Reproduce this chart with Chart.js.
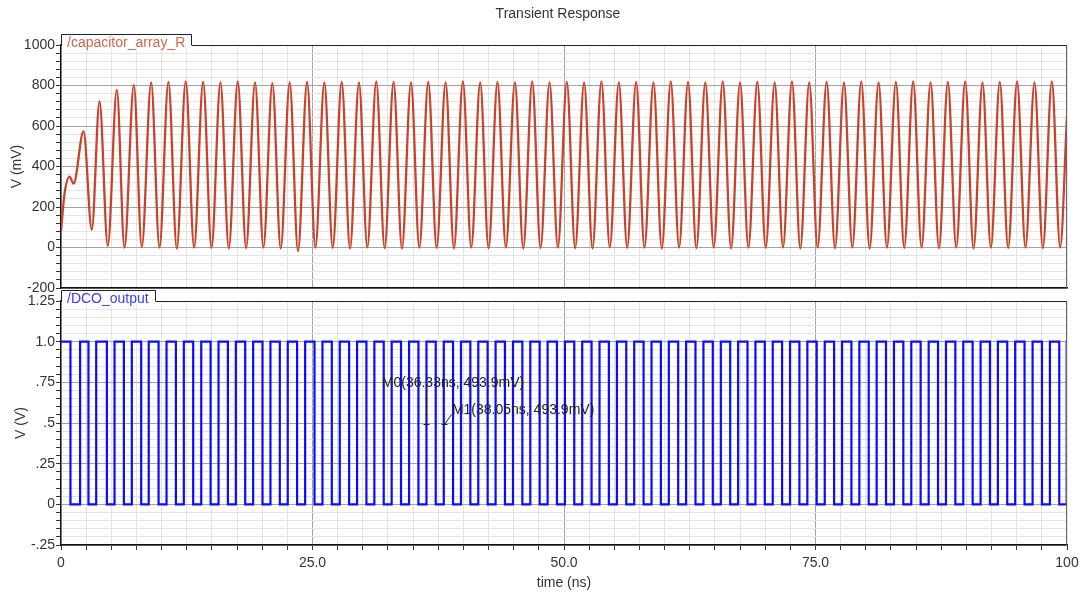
<!DOCTYPE html>
<html>
<head>
<meta charset="utf-8">
<title>Transient Response</title>
<script src="https://cdn.jsdelivr.net/npm/chart.js@4.4.1/dist/chart.umd.min.js"></script>
<style>
  html, body { margin: 0; padding: 0; background: #ffffff; }
  #wrap { position: relative; width: 1085px; height: 596px; overflow: hidden; }
  #topChart { position: absolute; left: 0; top: 0; width: 1085px; height: 300px; }
  #botChart { position: absolute; left: 0; top: 289px; width: 1085px; height: 307px; }
</style>
</head>
<body>
<div id="wrap">
  <canvas id="topChart" width="1085" height="300"></canvas>
  <canvas id="botChart" width="1085" height="307"></canvas>
</div>
<script>
const FONT = "'Liberation Sans', Arial, sans-serif";
const TEXT = '#333333';
const RED = '#c8432b';
const BLUE = '#0b0bff';

// /capacitor_array_R : turning points (time ns, value mV)
const capTime = [
  0, 0.35, 0.85, 1.25, 2.24, 3.06, 3.83, 4.65, 5.55, 6.31, 7.24, 8.03,
  8.96, 9.79, 10.68, 11.51, 12.40, 13.23, 14.13, 14.96, 15.85, 16.68,
  17.57, 18.40, 19.29, 20.12, 21.01, 21.84, 22.73, 23.56, 24.46, 25.29,
  26.18, 27.01, 27.90, 28.73, 29.62, 30.45, 31.34, 32.17, 33.06, 33.89,
  34.79, 35.62, 36.51, 37.34, 38.23, 39.06, 39.95, 40.78, 41.67, 42.50,
  43.39, 44.22, 45.12, 45.95, 46.84, 47.67, 48.56, 49.39, 50.28, 51.11,
  52.00, 52.83, 53.72, 54.55, 55.45, 56.28, 57.17, 58.00, 58.89, 59.72,
  60.61, 61.44, 62.33, 63.16, 64.05, 64.88, 65.78, 66.61, 67.50, 68.33,
  69.22, 70.05, 70.94, 71.77, 72.66, 73.49, 74.38, 75.21, 76.11, 76.94,
  77.83, 78.66, 79.55, 80.38, 81.27, 82.10, 82.99, 83.82, 84.71, 85.54,
  86.44, 87.27, 88.16, 88.99, 89.88, 90.71, 91.60, 92.43, 93.32, 94.15,
  95.04, 95.87, 96.77, 97.60, 98.49, 99.32, 100
];
const capMv = [
  80, 265, 350, 315, 573, 88, 722, 8, 778, 0, 802, 3,
  815, 0, 818, -5, 820, 0, 818, -2, 815, -5,
  820, -3, 815, 0, 812, -5, 815, -18, 818, 0,
  815, -2, 818, -5, 815, 0, 820, -3, 818, -5,
  815, 0, 818, -2, 815, -5, 820, 0, 815, -3,
  818, 0, 815, -5, 820, -2, 815, 0, 818, -3,
  815, -5, 820, 0, 815, -2, 818, 0, 815, -5,
  820, 0, 818, -3, 815, 0, 820, -5, 815, 0,
  818, -2, 815, 0, 820, -5, 815, 0, 818, -3,
  815, 0, 820, -5, 815, 0, 818, -2, 820, 0,
  815, -3, 818, 0, 820, -5, 815, 0, 818, -2,
  820, 0, 815, -3, 820, 0, 650
];

// /DCO_output : edge times (ns) and levels (V)
const dcoHigh = 1.0;
const dcoLow = 0.0;
const dcoRise = [
  1.90, 3.50, 5.32, 7.04, 8.72, 10.49, 12.21, 13.94, 15.66, 17.38, 19.10,
  20.82, 22.54, 24.27, 25.99, 27.71, 29.43, 31.15, 32.87, 34.60, 36.33,
  38.05, 39.76, 41.48, 43.20, 44.93, 46.65, 48.37, 50.09, 51.81, 53.53,
  55.26, 56.98, 58.70, 60.42, 62.14, 63.86, 65.59, 67.31, 69.03, 70.75,
  72.47, 74.19, 75.92, 77.64, 79.36, 81.08, 82.80, 84.52, 86.25, 87.97,
  89.69, 91.41, 93.13, 94.85, 96.58, 98.30, 99.97
];
const dcoFall = [
  0.94, 2.73, 4.56, 6.25, 7.97, 9.70, 11.42, 13.14, 14.87, 16.59, 18.31,
  20.03, 21.75, 23.47, 25.20, 26.92, 28.64, 30.36, 32.08, 33.80, 35.53,
  37.25, 38.97, 40.69, 42.41, 44.13, 45.86, 47.58, 49.30, 51.02, 52.74,
  54.46, 56.19, 57.91, 59.63, 61.35, 63.07, 64.79, 66.52, 68.24, 69.96,
  71.68, 73.40, 75.12, 76.85, 78.57, 80.29, 82.01, 83.73, 85.45, 87.18,
  88.90, 90.62, 92.34, 94.06, 95.78, 97.51, 99.23
];

// markers placed on the DCO trace
const markerName = ['M0', 'M1'];
const markerTime = [36.33, 38.05];
const markerMv = [493.9, 493.9];

// ticks
const xTickValues = [0, 25, 50, 75, 100];
const xTickLabels = ['0', '25.0', '50.0', '75.0', '100'];
const topTickValues = [1000, 800, 600, 400, 200, 0, -200];
const topTickLabels = ['1000', '800', '600', '400', '200', '0', '-200'];
const botTickValues = [1.25, 1.0, 0.75, 0.5, 0.25, 0, -0.25];
const botTickLabels = ['1.25', '1.0', '.75', '.5', '.25', '0', '-.25'];

const MAJOR_GRID = '#a4a4a4';
const MINOR_GRID = '#e4e4e4';

function majorIndex(values, v) {
  return values.findIndex(m => Math.abs(m - v) < 1e-6);
}
function labelFor(values, labels) {
  return v => {
    const i = majorIndex(values, v);
    return i >= 0 ? labels[i] : '';
  };
}
function gridFor(values) {
  return ctx => (ctx.tick && majorIndex(values, ctx.tick.value) >= 0) ? MAJOR_GRID : MINOR_GRID;
}

// build the point lists
const capPoints = capTime.map((t, i) => ({ x: t, y: capMv[i] }));
const dcoEdges = dcoRise.map(t => ({ x: t, y: dcoHigh }))
  .concat(dcoFall.map(t => ({ x: t, y: dcoLow })))
  .sort((a, b) => a.x - b.x);
const dcoPoints = [{ x: 0, y: dcoHigh }].concat(dcoEdges, [{ x: 100, y: dcoHigh }]);

// frame lines and the little name tab over each panel
const panelTab = {
  id: 'panelTab',
  afterDraw(chart, args, opts) {
    const { ctx, chartArea: a } = chart;
    ctx.save();
    ctx.lineWidth = 1;
    ctx.strokeStyle = '#222';
    ctx.beginPath();
    ctx.moveTo(a.left, a.top + 0.5);
    ctx.lineTo(a.right, a.top + 0.5);
    ctx.stroke();
    ctx.strokeStyle = '#666';
    ctx.beginPath();
    ctx.moveTo(a.right - 0.5, a.top);
    ctx.lineTo(a.right - 0.5, a.bottom);
    ctx.stroke();

    ctx.font = '14px ' + FONT;
    const w = Math.round(ctx.measureText(opts.text).width + 12);
    ctx.fillStyle = '#ffffff';
    ctx.fillRect(a.left + 1, a.top - 10, w, 14);
    ctx.strokeStyle = '#222';
    ctx.beginPath();
    ctx.moveTo(a.left + 0.5, a.top);
    ctx.lineTo(a.left + 0.5, a.top - 10.5);
    ctx.lineTo(a.left + w + 0.5, a.top - 10.5);
    ctx.lineTo(a.left + w + 0.5, a.top + 0.5);
    ctx.stroke();
    ctx.fillStyle = opts.color;
    ctx.textAlign = 'left';
    ctx.textBaseline = 'alphabetic';
    ctx.fillText(opts.text, a.left + 6, a.top + 1.5);

    if (opts.title) {
      ctx.fillStyle = TEXT;
      ctx.textAlign = 'center';
      ctx.textBaseline = 'middle';
      ctx.fillText(opts.title, (a.left + a.right) / 2 - 6, 14);
    }
    ctx.restore();
  }
};

const markerPlugin = {
  id: 'markers',
  afterDatasetsDraw(chart, args, opts) {
    const { ctx, scales: { x, y } } = chart;
    ctx.save();
    ctx.font = '14px ' + FONT;
    ctx.fillStyle = '#222';
    ctx.strokeStyle = '#222';
    ctx.lineWidth = 1;
    ctx.textAlign = 'left';
    ctx.textBaseline = 'alphabetic';
    markerName.forEach((name, i) => {
      const px = Math.round(x.getPixelForValue(markerTime[i])) + 0.5;
      const py = Math.round(y.getPixelForValue(markerMv[i] / 1000)) + 0.5;
      const off = opts.offsets[i];
      ctx.beginPath();
      ctx.moveTo(px - 3, py);
      ctx.lineTo(px + 3, py);
      ctx.moveTo(px, py);
      ctx.lineTo(px + off.lx, py + off.ly);
      ctx.stroke();
      const label = `${name}(${markerTime[i].toFixed(2)}ns, ${markerMv[i].toFixed(1)}mV)`;
      ctx.fillText(label, px + off.tx, py + off.ty);
    });
    ctx.restore();
  }
};

const tickFont = { family: FONT, size: 14 };

new Chart(document.getElementById('topChart'), {
  type: 'line',
  data: {
    datasets: [{
      label: '/capacitor_array_R',
      data: capPoints,
      borderColor: RED,
      borderWidth: 2.3,
      pointRadius: 0,
      cubicInterpolationMode: 'monotone'
    }]
  },
  options: {
    responsive: false,
    animation: false,
    layout: { padding: { top: 45, right: 18, left: 0, bottom: 0 } },
    plugins: {
      legend: { display: false },
      tooltip: { enabled: false },
      panelTab: { text: '/capacitor_array_R', color: '#d0654b', title: 'Transient Response' }
    },
    scales: {
      x: {
        type: 'linear', min: 0, max: 100,
        ticks: { display: false, stepSize: 2.5, autoSkip: false, maxTicksLimit: 100 },
        grid: { drawTicks: false, color: gridFor([25, 50, 75]) },
        border: { color: '#111', width: 1.5 },
        afterFit: s => { s.height = 12; }
      },
      y: {
        min: -200, max: 1000,
        ticks: {
          stepSize: 40, autoSkip: false, maxTicksLimit: 100, padding: 1,
          font: tickFont, color: TEXT,
          callback: labelFor(topTickValues, topTickLabels)
        },
        grid: { color: gridFor(topTickValues), tickLength: 5, tickColor: '#333' },
        border: { color: '#111', width: 1.5 },
        title: { display: true, text: 'V (mV)', font: tickFont, color: TEXT, padding: { top: 8.5, bottom: 0 } },
        afterFit: s => { s.width = 61; }
      }
    }
  },
  plugins: [panelTab]
});

new Chart(document.getElementById('botChart'), {
  type: 'line',
  data: {
    datasets: [{
      label: '/DCO_output',
      data: dcoPoints,
      borderColor: BLUE,
      borderWidth: 2.2,
      pointRadius: 0,
      stepped: true
    }]
  },
  options: {
    responsive: false,
    animation: false,
    layout: { padding: { top: 12, right: 18, left: 0, bottom: 0 } },
    plugins: {
      legend: { display: false },
      tooltip: { enabled: false },
      panelTab: { text: '/DCO_output', color: '#3a3aff' },
      markers: {
        offsets: [
          { lx: 0, ly: -35, tx: -44.7, ty: -38 },
          { lx: 7, ly: -10, tx: 7.4, ty: -11 }
        ]
      }
    },
    scales: {
      x: {
        type: 'linear', min: 0, max: 100,
        ticks: {
          stepSize: 2.5, autoSkip: false, maxTicksLimit: 100, maxRotation: 0, padding: 5,
          font: tickFont, color: TEXT,
          callback: labelFor(xTickValues, xTickLabels)
        },
        grid: { color: gridFor([25, 50, 75]), tickLength: 5, tickColor: '#333' },
        border: { color: '#111', width: 1.5 },
        title: { display: true, text: 'time (ns)', font: tickFont, color: TEXT, padding: { top: 0, bottom: 4.6 } },
        afterFit: s => { s.height = 51; }
      },
      y: {
        min: -0.25, max: 1.25,
        ticks: {
          stepSize: 0.05, autoSkip: false, maxTicksLimit: 100, padding: 1,
          font: tickFont, color: TEXT,
          callback: labelFor(botTickValues, botTickLabels)
        },
        grid: { color: gridFor(botTickValues), tickLength: 5, tickColor: '#333' },
        border: { color: '#111', width: 1.5 },
        title: { display: true, text: 'V (V)', font: tickFont, color: TEXT, padding: { top: 12.6, bottom: 0 } },
        afterFit: s => { s.width = 61; }
      }
    }
  },
  plugins: [panelTab, markerPlugin]
});
</script>
</body>
</html>
